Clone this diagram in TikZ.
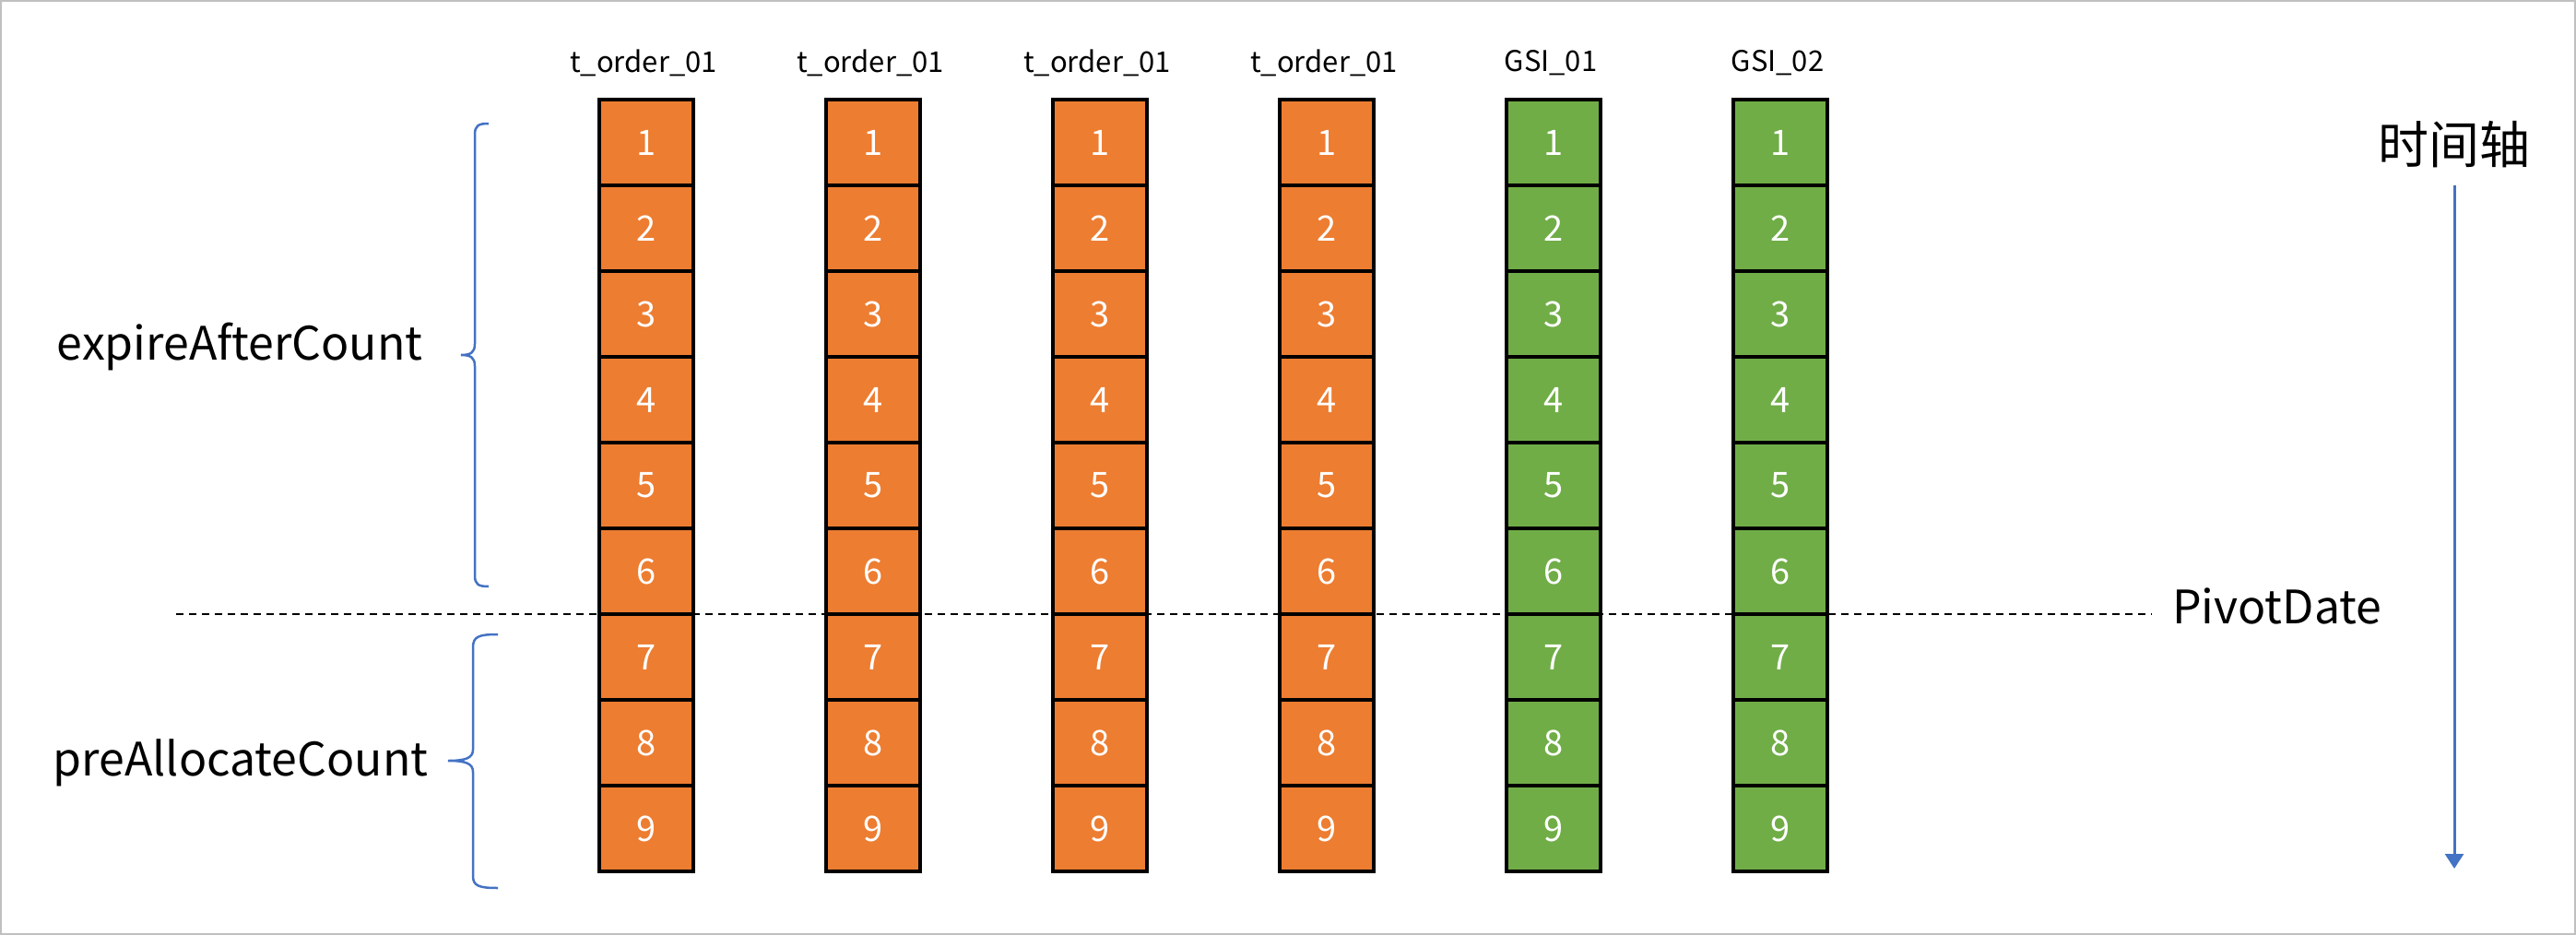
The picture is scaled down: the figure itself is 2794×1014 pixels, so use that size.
\documentclass[tikz,border=0pt]{standalone}
\usepackage{fontspec}
\setmainfont{Noto Sans CJK SC}
\usetikzlibrary{arrows.meta}
\definecolor{cellorange}{HTML}{ED7D31}
\definecolor{cellgreen}{HTML}{70AD47}
\definecolor{axisblue}{HTML}{4472C4}
\definecolor{framegray}{HTML}{C0C0C0}
\tikzset{
  cellbox/.style={rectangle, draw=black, line width=4pt, minimum width=102pt, minimum height=93pt, inner sep=0pt, text=white, font=\fontsize{38}{38}\selectfont},
  header/.style={font=\fontsize{31}{31}\selectfont, text=black, inner sep=0pt},
  biglabel/.style={font=\fontsize{50}{50}\selectfont, text=black, inner sep=0pt},
  bracestyle/.style={draw=axisblue, line width=2.5pt},
  pivot/.style={draw=black, line width=2pt, dash pattern=on 8pt off 6pt},
  axisarrow/.style={draw=axisblue, line width=3pt, -{Triangle[width=20pt,length=16pt]}}
}
\begin{document}
\begin{tikzpicture}[x=1pt,y=-1pt]
\useasboundingbox (0,0) rectangle (2794,1014);
\draw[framegray, line width=2pt] (1,1) rectangle (2793,1013);
% pivot line
\coordinate (pl) at (191,666);
\coordinate (pr) at (2334,666);
\draw[pivot] (pl) -- (pr);
% columns
\foreach \i/\name/\col in {0/t\_order\_01/cellorange,1/t\_order\_01/cellorange,2/t\_order\_01/cellorange,3/t\_order\_01/cellorange,4/GSI\_01/cellgreen,5/GSI\_02/cellgreen}{
  \pgfmathsetmacro{\cx}{701+246*\i}
  \node[header] (h\i) at (\cx-3,68) {\name};
  \foreach \j in {1,...,9}{
    \pgfmathsetmacro{\cy}{108+93*(\j-0.5)}
    \node[cellbox, fill=\col] (c\i-\j) at (\cx,\cy) {\j};
  }
}
% braces
\draw[bracestyle] (530,134) .. controls (519,134) and (515,136) .. (515,146) -- (515,373) .. controls (515,382) and (511,385) .. (500,385) .. controls (511,385) and (515,388) .. (515,397) -- (515,624) .. controls (515,634) and (519,636) .. (530,636);
\draw[bracestyle] (540,688) .. controls (520,688) and (513,690) .. (513,702) -- (513,813) .. controls (513,822) and (505,825) .. (486,825) .. controls (505,825) and (513,828) .. (513,837) -- (513,950) .. controls (513,961) and (520,963) .. (540,963);
% labels
\node[biglabel] (expire) at (260,376) {expireAfterCount};
\node[biglabel] (prealloc) at (261,827) {preAllocateCount};
\node[biglabel, anchor=west] (pivotlabel) at (2356,657) {PivotDate};
\node[biglabel, font=\fontsize{55}{55}\selectfont] (timeaxis) at (2662,157) {时间轴};
\coordinate (axend) at (2662,942);
\draw[axisarrow] (timeaxis.south |- 0,201) -- (axend);
\end{tikzpicture}
\end{document}
